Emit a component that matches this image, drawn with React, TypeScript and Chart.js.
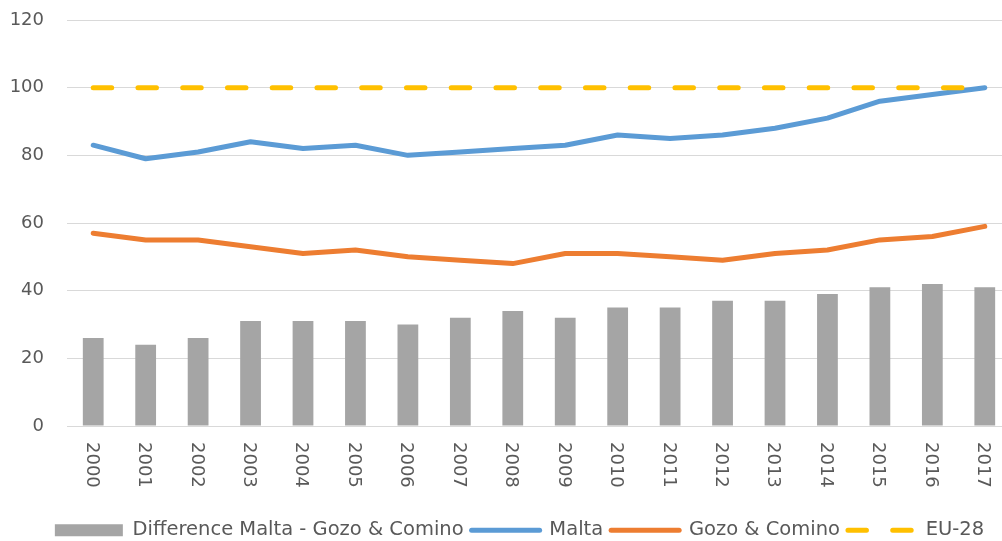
import React, { useEffect, useRef } from "react";
import { Chart, registerables } from "chart.js";

Chart.register(...registerables);

// ---- data ----
const years = ["2000", "2001", "2002", "2003", "2004", "2005", "2006", "2007", "2008", "2009", "2010", "2011", "2012", "2013", "2014", "2015", "2016", "2017"];
const difference = [26, 24, 26, 31, 31, 31, 30, 32, 34, 32, 35, 35, 37, 37, 39, 41, 42, 41];
const malta = [83, 79, 81, 84, 82, 83, 80, 81, 82, 83, 86, 85, 86, 88, 91, 96, 98, 100];
const gozo = [57, 55, 55, 53, 51, 52, 50, 49, 48, 51, 51, 50, 49, 51, 52, 55, 56, 59];
const eu28 = [100, 100, 100, 100, 100, 100, 100, 100, 100, 100, 100, 100, 100, 100, 100, 100, 100, 100];
const seriesNames = ["Difference Malta - Gozo & Comino", "Malta", "Gozo & Comino", "EU-28"];
const yMin = 0;
const yMax = 120;
const yStep = 20;

// ---- styles ----
const FONT = "'DejaVu Sans', sans-serif";
const TEXT = "#595959";
const GRAY = "#A5A5A5";
const BLUE = "#5B9BD5";
const ORANGE = "#ED7D31";
const YELLOW = "#FFC000";
const GRID = "#D9D9D9";
const DASH = [18.5, 26.25];
const LEGEND_SHIFT = 14;

const xLabelPlugin = {
  id: "xLabelsClockwise",
  afterLayout(chart: any) {
    if (chart.legend) {
      chart.legend.left += LEGEND_SHIFT;
      chart.legend.right += LEGEND_SHIFT;
    }
  },
  afterDraw(chart: any) {
    const { ctx, chartArea } = chart;
    const xs = chart.scales.x;
    const fs = 18;
    ctx.save();
    ctx.font = `${fs}px ${FONT}`;
    ctx.fillStyle = TEXT;
    ctx.textAlign = "left";
    ctx.textBaseline = "alphabetic";
    years.forEach((lab, i) => {
      const x = xs.getPixelForTick(i);
      ctx.save();
      ctx.translate(x, chartArea.bottom + 16);
      ctx.rotate(Math.PI / 2);
      ctx.fillText(lab, 0, 0.3645 * fs);
      ctx.restore();
    });
    ctx.restore();
  },
};

export default function App() {
  const ref = useRef<HTMLCanvasElement | null>(null);

  useEffect(() => {
    if (!ref.current) return;
    Chart.defaults.font.family = FONT;
    const chart = new Chart(ref.current, {
      type: "bar",
      data: {
        labels: years,
        datasets: [
          {
            type: "line",
            label: seriesNames[3],
            data: eu28,
            borderColor: YELLOW,
            backgroundColor: YELLOW,
            borderWidth: 5,
            borderDash: DASH,
            borderCapStyle: "round",
            pointRadius: 0,
            tension: 0,
            fill: false,
          } as any,
          {
            type: "bar",
            label: seriesNames[0],
            data: difference,
            backgroundColor: GRAY,
            borderWidth: 0,
            barPercentage: 0.99,
            categoryPercentage: 0.4,
          } as any,
          {
            type: "line",
            label: seriesNames[1],
            data: malta,
            borderColor: BLUE,
            backgroundColor: BLUE,
            borderWidth: 5,
            borderCapStyle: "round",
            borderJoinStyle: "round",
            pointRadius: 0,
            tension: 0,
            fill: false,
          } as any,
          {
            type: "line",
            label: seriesNames[2],
            data: gozo,
            borderColor: ORANGE,
            backgroundColor: ORANGE,
            borderWidth: 5,
            borderCapStyle: "round",
            borderJoinStyle: "round",
            pointRadius: 0,
            tension: 0,
            fill: false,
          } as any,
        ],
      },
      options: {
        animation: false,
        responsive: false,
        layout: { padding: { left: 0, right: 1, top: 20, bottom: 0 } },
        plugins: {
          tooltip: { enabled: false },
          legend: {
            position: "bottom",
            labels: {
              usePointStyle: true,
              pointStyleWidth: 68,
              boxHeight: 12,
              padding: 8,
              color: TEXT,
              font: { family: FONT, size: 19.5 },
              generateLabels: () => [
                { text: seriesNames[0], fillStyle: GRAY, strokeStyle: GRAY, lineWidth: 0, pointStyle: "rect", hidden: false, datasetIndex: 1, fontColor: TEXT },
                { text: seriesNames[1], fillStyle: BLUE, strokeStyle: BLUE, lineWidth: 5, lineCap: "round", pointStyle: "line", hidden: false, datasetIndex: 2, fontColor: TEXT },
                { text: seriesNames[2], fillStyle: ORANGE, strokeStyle: ORANGE, lineWidth: 5, lineCap: "round", pointStyle: "line", hidden: false, datasetIndex: 3, fontColor: TEXT },
                { text: seriesNames[3], fillStyle: YELLOW, strokeStyle: YELLOW, lineWidth: 5, lineCap: "round", lineDash: DASH, pointStyle: "line", hidden: false, datasetIndex: 0, fontColor: TEXT },
              ] as any,
            },
          },
        },
        scales: {
          x: {
            grid: { display: false },
            border: { display: false },
            ticks: { display: false },
            afterFit: (s: any) => {
              s.height = 86.5;
              s.paddingLeft = 0;
              s.paddingRight = 0;
            },
          },
          y: {
            min: yMin,
            max: yMax,
            ticks: { stepSize: yStep, padding: 23, color: TEXT, font: { family: FONT, size: 18 } },
            grid: { color: GRID, lineWidth: 1, drawTicks: false },
            border: { display: false },
            afterFit: (s: any) => {
              s.width = 67;
              s.paddingTop = 0;
              s.paddingBottom = 0;
            },
          },
        },
      } as any,
      plugins: [xLabelPlugin],
    });
    return () => chart.destroy();
  }, []);

  return (
    <div style={{ position: "fixed", left: 0, top: 0, width: 1012, height: 550, background: "#fff" }}>
      <canvas ref={ref} width={1012} height={550} />
    </div>
  );
}
